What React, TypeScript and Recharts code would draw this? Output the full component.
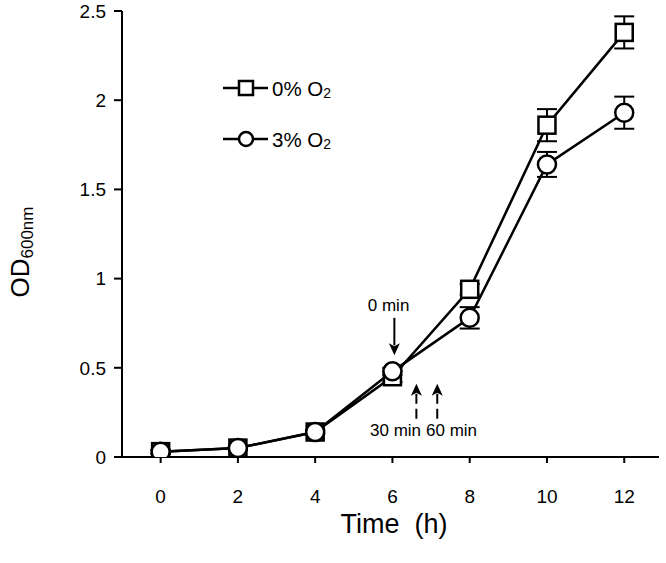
import React from 'react';
import { LineChart, Line, XAxis, YAxis, ErrorBar, Legend, ReferenceLine, ReferenceDot } from 'recharts';

const times = [0, 2, 4, 6, 8, 10, 12];
const od0 = [0.03, 0.05, 0.14, 0.45, 0.94, 1.86, 2.38];
const err0 = [0.01, 0.01, 0.01, 0.03, 0.03, 0.09, 0.09];
const od3 = [0.03, 0.05, 0.14, 0.48, 0.78, 1.64, 1.93];
const err3 = [0.01, 0.01, 0.01, 0.02, 0.06, 0.07, 0.09];
const xTicks = [0, 2, 4, 6, 8, 10, 12];
const yTicks = [0, 0.5, 1, 1.5, 2, 2.5];
const seriesNames = ['0% O', '3% O'];
const seriesSub = ['2', '2'];

const data = times.map((t, i) => ({ t, a: od0[i], ea: err0[i], b: od3[i], eb: err3[i] }));

const FONT = '"Liberation Sans", Arial, sans-serif';

const squareDot = (p: any) => {
  const { cx, cy, index } = p;
  if (cx == null || cy == null) return <g key={`sq-${index}`} />;
  return (
    <rect key={`sq-${index}`} x={cx - 8.5} y={cy - 8.5} width={17} height={17} fill="#fff" stroke="#000" strokeWidth={2.5} />
  );
};

const circleDot = (p: any) => {
  const { cx, cy, index } = p;
  if (cx == null || cy == null) return <g key={`ci-${index}`} />;
  return <circle key={`ci-${index}`} cx={cx} cy={cy} r={9} fill="#fff" stroke="#000" strokeWidth={2.5} />;
};

const arrowShape = (dash?: string) => (p: any) => {
  const { x1, y1, x2, y2 } = p;
  const dir = Math.sign(y2 - y1) || 1;
  const hl = 12;
  const hw = 5.5;
  const baseY = y2 - dir * hl;
  return (
    <g>
      <line x1={x1} y1={y1} x2={x2} y2={baseY + dir * 2} stroke="#000" strokeWidth={2} strokeDasharray={dash} />
      <polygon points={`${x2},${y2} ${x2 - hw},${baseY} ${x2},${baseY + dir * 3} ${x2 + hw},${baseY}`} fill="#000" />
    </g>
  );
};

const textShape = (label: string) => (p: any) => (
  <text x={p.cx} y={p.cy} textAnchor="middle" dominantBaseline="central" fontFamily={FONT} fontSize={17} fill="#000">
    {label}
  </text>
);

const renderLegend = () => (
  <svg width={150} height={90} style={{ display: 'block' }}>
    {seriesNames.map((name, i) => {
      const y = i === 0 ? 18 : 69;
      return (
        <g key={name}>
          <line x1={8} y1={y} x2={53} y2={y} stroke="#000" strokeWidth={2.5} />
          {i === 0 ? (
            <rect x={24} y={y - 7} width={14} height={14} fill="#fff" stroke="#000" strokeWidth={2.5} />
          ) : (
            <circle cx={31} cy={y} r={7} fill="#fff" stroke="#000" strokeWidth={2.5} />
          )}
          <text x={57} y={y} dominantBaseline="central" fontFamily={FONT} fontSize={20.5} fill="#000">
            {name}
            <tspan fontSize={14} dy={5}>{seriesSub[i]}</tspan>
          </text>
        </g>
      );
    })}
  </svg>
);

const yLabel = () => (
  <text x={20} y={252} transform="rotate(-90, 20, 252)" textAnchor="middle" dominantBaseline="central" fontFamily={FONT} fontSize={26} fill="#000">
    OD
    <tspan fontSize={17} dy={7}>600nm</tspan>
  </text>
);

const xLabel = () => (
  <text x={394} y={524} textAnchor="middle" dominantBaseline="central" fontFamily={FONT} fontSize={27} fill="#000" style={{ whiteSpace: 'pre' }}>
    {'Time  (h)'}
  </text>
);

export default function App() {
  return (
    <div style={{ position: 'absolute', left: 0, top: 0, background: '#fff' }}>
      <LineChart width={666} height={563} data={data} margin={{ top: 11, right: 7, bottom: 0, left: 0 }}>
        <XAxis
          type="number"
          dataKey="t"
          domain={[-1, 12.9]}
          ticks={xTicks}
          allowDataOverflow
          tickSize={6}
          tickMargin={27}
          height={106}
          axisLine={{ stroke: '#000', strokeWidth: 2 }}
          tickLine={{ stroke: '#000', strokeWidth: 2 }}
          tick={{ fill: '#000', fontSize: 19, fontFamily: FONT }}
          label={{ content: xLabel }}
        />
        <YAxis
          type="number"
          domain={[0, 2.5]}
          ticks={yTicks}
          allowDataOverflow
          width={122}
          tickSize={8}
          tickMargin={8}
          axisLine={{ stroke: '#000', strokeWidth: 2 }}
          tickLine={{ stroke: '#000', strokeWidth: 2 }}
          tick={{ fill: '#000', fontSize: 19, fontFamily: FONT }}
          label={{ content: yLabel }}
        />
        <Legend
          layout="vertical"
          align="center"
          verticalAlign="middle"
          content={renderLegend}
          wrapperStyle={{ left: 215, top: 70, width: 150, height: 90 }}
        />
        <Line dataKey="a" name="0% O2" stroke="#000" strokeWidth={2.5} dot={squareDot} isAnimationActive={false}>
          <ErrorBar dataKey="ea" width={10} stroke="#000" strokeWidth={2} direction="y" />
        </Line>
        <Line dataKey="b" name="3% O2" stroke="#000" strokeWidth={2.5} dot={circleDot} isAnimationActive={false}>
          <ErrorBar dataKey="eb" width={10} stroke="#000" strokeWidth={2} direction="y" />
        </Line>
        <ReferenceLine segment={[{ x: 6.05, y: 0.78 }, { x: 6.05, y: 0.57 }]} shape={arrowShape()} />
        <ReferenceLine segment={[{ x: 6.62, y: 0.215 }, { x: 6.62, y: 0.41 }]} shape={arrowShape('10 5')} />
        <ReferenceLine segment={[{ x: 7.16, y: 0.215 }, { x: 7.16, y: 0.41 }]} shape={arrowShape('10 5')} />
        <ReferenceDot x={5.9} y={0.85} r={0} shape={textShape('0 min')} />
        <ReferenceDot x={6.08} y={0.15} r={0} shape={textShape('30 min')} />
        <ReferenceDot x={7.53} y={0.15} r={0} shape={textShape('60 min')} />
      </LineChart>
    </div>
  );
}
